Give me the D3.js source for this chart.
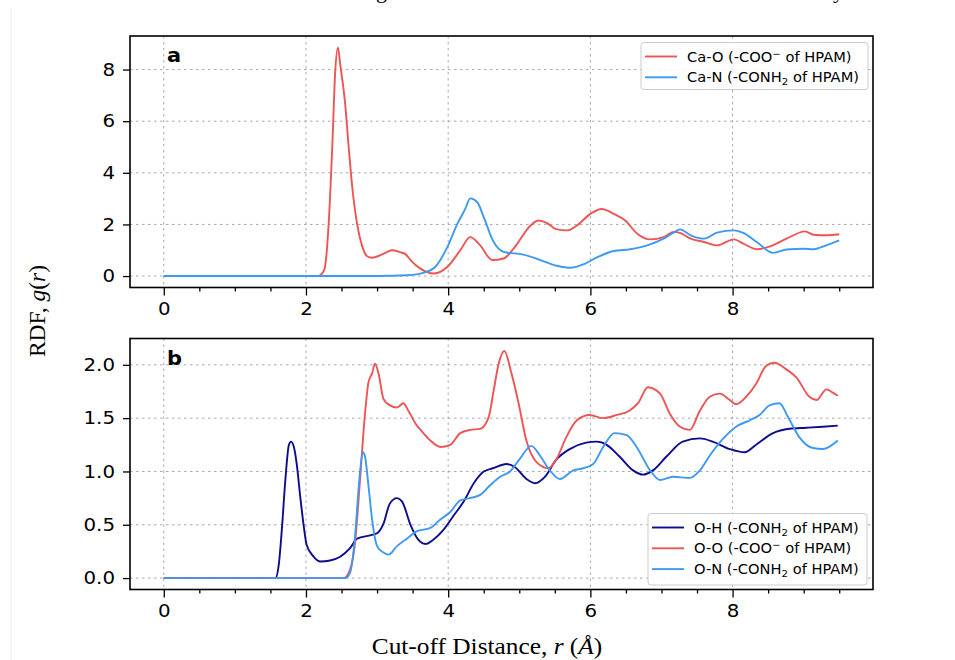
<!DOCTYPE html>
<html>
<head>
<meta charset="utf-8">
<script src="https://cdn.jsdelivr.net/npm/d3@7"></script>
<style>
  body { margin: 0; background: #fff; }
  svg { display: block; }
  .tick text { font-family: "DejaVu Sans", sans-serif; font-size: 18px; fill: #000; }
  .legend text { font-family: "DejaVu Sans", sans-serif; font-size: 13.7px; fill: #000; }
</style>
</head>
<body>
<svg id="chart"></svg>
<script>
// RDF data: [r, g(r)]
const caO = [[0,0],[2.18,0],[2.2,0.03],[2.26,0.26],[2.32,2.06],[2.37,5.02],[2.41,7.85],[2.45,8.86],[2.48,8.24],[2.55,6.7],[2.6,5.02],[2.65,3.47],[2.72,2.0],[2.79,1.16],[2.86,0.77],[2.93,0.71],[3.04,0.8],[3.14,0.93],[3.21,1.0],[3.32,0.93],[3.4,0.85],[3.47,0.62],[3.61,0.29],[3.8,0.1],[3.99,0.36],[4.17,1.0],[4.31,1.51],[4.45,1.19],[4.62,0.62],[4.78,0.68],[4.92,1.06],[5.16,1.96],[5.27,2.15],[5.39,2.05],[5.51,1.83],[5.67,1.77],[5.81,1.96],[6.0,2.41],[6.16,2.6],[6.33,2.41],[6.49,2.15],[6.66,1.64],[6.84,1.42],[7.03,1.51],[7.17,1.71],[7.26,1.67],[7.41,1.45],[7.6,1.32],[7.78,1.19],[8.02,1.42],[8.15,1.26],[8.34,1.04],[8.53,1.15],[8.76,1.45],[9.02,1.73],[9.14,1.6],[9.32,1.58],[9.5,1.62]];
const caN = [[0,0],[3.0,0],[3.42,0.03],[3.66,0.13],[3.82,0.36],[3.99,1.13],[4.13,2.03],[4.24,2.6],[4.31,3.01],[4.41,2.86],[4.5,2.28],[4.64,1.32],[4.78,0.94],[5.06,0.83],[5.3,0.62],[5.53,0.4],[5.72,0.32],[5.91,0.46],[6.09,0.72],[6.33,0.97],[6.56,1.04],[6.8,1.19],[7.03,1.45],[7.17,1.68],[7.26,1.81],[7.41,1.58],[7.6,1.45],[7.78,1.68],[8.02,1.77],[8.15,1.67],[8.34,1.32],[8.57,0.9],[8.76,1.03],[9.0,1.06],[9.14,1.04],[9.32,1.19],[9.5,1.38]];
const oH = [[0,0],[1.57,0],[1.62,0.14],[1.66,0.45],[1.71,0.92],[1.76,1.25],[1.79,1.28],[1.83,1.23],[1.87,1.07],[1.92,0.76],[1.97,0.48],[2.01,0.31],[2.11,0.2],[2.2,0.156],[2.34,0.165],[2.48,0.2],[2.62,0.28],[2.72,0.37],[2.9,0.4],[3.0,0.42],[3.09,0.51],[3.18,0.7],[3.28,0.75],[3.35,0.72],[3.47,0.5],[3.58,0.36],[3.68,0.32],[3.79,0.36],[3.93,0.45],[4.07,0.58],[4.22,0.72],[4.36,0.89],[4.5,1.0],[4.63,1.03],[4.82,1.07],[4.94,1.04],[5.1,0.93],[5.22,0.89],[5.36,0.95],[5.52,1.11],[5.71,1.21],[5.94,1.27],[6.09,1.28],[6.23,1.25],[6.41,1.14],[6.6,1.01],[6.74,0.97],[6.88,1.01],[7.07,1.14],[7.3,1.28],[7.54,1.31],[7.72,1.28],[7.96,1.21],[8.17,1.18],[8.33,1.25],[8.57,1.36],[8.8,1.4],[9.04,1.41],[9.27,1.42],[9.48,1.43]];
const oO = [[0,0],[2.53,0],[2.62,0.08],[2.69,0.33],[2.76,0.92],[2.83,1.54],[2.88,1.84],[2.93,1.92],[2.97,2.01],[3.02,1.92],[3.09,1.68],[3.18,1.62],[3.28,1.6],[3.37,1.64],[3.44,1.57],[3.54,1.45],[3.65,1.36],[3.75,1.29],[3.89,1.23],[4.03,1.25],[4.17,1.36],[4.31,1.39],[4.45,1.4],[4.57,1.51],[4.64,1.76],[4.71,2.01],[4.79,2.13],[4.89,1.92],[4.99,1.64],[5.1,1.29],[5.24,1.09],[5.41,1.03],[5.52,1.11],[5.66,1.32],[5.81,1.48],[5.99,1.53],[6.18,1.5],[6.37,1.53],[6.55,1.57],[6.67,1.64],[6.81,1.79],[6.98,1.73],[7.12,1.54],[7.26,1.42],[7.4,1.39],[7.54,1.57],[7.68,1.7],[7.82,1.73],[7.96,1.67],[8.05,1.63],[8.19,1.7],[8.33,1.82],[8.47,1.99],[8.59,2.02],[8.75,1.96],[8.9,1.88],[9.08,1.7],[9.18,1.67],[9.32,1.77],[9.41,1.74],[9.48,1.71]];
const oN = [[0,0],[2.55,0],[2.62,0.05],[2.69,0.39],[2.75,0.92],[2.8,1.18],[2.83,1.14],[2.88,0.86],[2.93,0.55],[3.0,0.3],[3.09,0.24],[3.16,0.22],[3.28,0.3],[3.42,0.37],[3.56,0.44],[3.75,0.47],[3.89,0.55],[4.03,0.62],[4.17,0.73],[4.31,0.75],[4.45,0.78],[4.59,0.87],[4.73,0.95],[4.87,1.0],[5.01,1.12],[5.17,1.24],[5.29,1.15],[5.43,1.01],[5.57,0.93],[5.76,1.01],[5.9,1.03],[6.04,1.07],[6.18,1.23],[6.34,1.36],[6.51,1.34],[6.65,1.23],[6.84,1.01],[6.98,0.92],[7.16,0.95],[7.4,0.94],[7.54,1.01],[7.68,1.15],[7.87,1.31],[8.05,1.42],[8.24,1.48],[8.38,1.53],[8.52,1.62],[8.66,1.64],[8.78,1.51],[8.94,1.32],[9.13,1.22],[9.27,1.21],[9.48,1.29]];

const xTicks = [0, 2, 4, 6, 8];
const xMinorTicks = d3.range(0, 9.51, 0.5);
const yTicksA = [0, 2, 4, 6, 8];
const yTicksB = [0, 0.5, 1.0, 1.5, 2.0];

const RED = '#ef5454', BLUE = '#3d99f2', NAVY = '#0c0c8e';
const SX = 1.1;  // the source figure is a little stretched sideways

const W = 955, H = 660;
const svg = d3.select('#chart').attr('width', W).attr('height', H);

// faint page edge and the clipped caption line above the figure
svg.append('line').attr('x1', 11).attr('x2', 11).attr('y1', 8).attr('y2', H)
  .attr('stroke', '#ececec').attr('stroke-width', 1);
svg.append('text').attr('x', 376).attr('y', -2).text('g')
  .style('font-family', '"Liberation Serif", serif').style('font-size', '22px');
svg.append('text').attr('x', 833).attr('y', -2).text('y')
  .style('font-family', '"Liberation Serif", serif').style('font-size', '22px');

const left = 130, right = 873;
const x = d3.scaleLinear().domain([-0.475, 9.975]).range([left, right]);

const panels = [
  { label: 'a', top: 36, bottom: 287.5, domain: [-0.443, 9.3], ticks: yTicksA, fmt: d3.format('d'),
    series: [ { data: caO, color: RED, name: ['Ca-O (-COO', '−', ' of HPAM)'], sup: true },
              { data: caN, color: BLUE, name: ['Ca-N (-CONH', '2', ' of HPAM)'], sup: false } ],
    legend: { x: 641, y: 42.5, w: 227, h: 47 } },
  { label: 'b', top: 338.5, bottom: 589.5, domain: [-0.107, 2.247], ticks: yTicksB, fmt: d3.format('.1f'),
    series: [ { data: oH, color: NAVY, name: ['O-H (-CONH', '2', ' of HPAM)'], sup: false },
              { data: oO, color: RED, name: ['O-O (-COO', '−', ' of HPAM)'], sup: true },
              { data: oN, color: BLUE, name: ['O-N (-CONH', '2', ' of HPAM)'], sup: false } ],
    legend: { x: 648, y: 513.5, w: 219, h: 71.5 } }
];

panels.forEach(p => {
  const y = d3.scaleLinear().domain(p.domain).range([p.bottom, p.top]);
  const g = svg.append('g');

  // grid
  g.append('g').selectAll('line').data(xTicks).enter().append('line')
    .attr('x1', d => x(d)).attr('x2', d => x(d)).attr('y1', p.top).attr('y2', p.bottom)
    .attr('stroke', '#aaaaaa').attr('stroke-width', 1).attr('stroke-dasharray', '2.5,3.5');
  g.append('g').selectAll('line').data(p.ticks).enter().append('line')
    .attr('x1', left).attr('x2', right).attr('y1', d => y(d)).attr('y2', d => y(d))
    .attr('stroke', '#aaaaaa').attr('stroke-width', 1).attr('stroke-dasharray', '2.5,3.5');

  // lines
  const line = d3.line().x(d => x(d[0])).y(d => y(d[1])).curve(d3.curveMonotoneX);
  p.series.forEach(s => {
    g.append('path').datum(s.data).attr('d', line)
      .attr('fill', 'none').attr('stroke', s.color).attr('stroke-width', 1.9)
      .attr('stroke-linejoin', 'round');
  });

  // axes
  const xAxis = g.append('g').attr('transform', `translate(0,${p.bottom})`)
    .call(d3.axisBottom(x).tickValues(xTicks).tickSize(8).tickPadding(7).tickFormat(d3.format('d')));
  const xMinor = g.append('g').attr('transform', `translate(0,${p.bottom})`)
    .call(d3.axisBottom(x).tickValues(xMinorTicks.filter(v => v % 2 !== 0)).tickSize(4).tickFormat(''));
  const yAxis = g.append('g').attr('transform', `translate(${left},0)`)
    .call(d3.axisLeft(y).tickValues(p.ticks).tickSize(7).tickPadding(8).tickFormat(p.fmt));
  [xAxis, xMinor, yAxis].forEach(a => {
    a.select('.domain').remove();
    a.selectAll('.tick line').attr('stroke', '#000').attr('stroke-width', 1.3);
  });
  xAxis.selectAll('.tick text').attr('transform', `scale(${SX},1)`);
  yAxis.selectAll('.tick text').attr('x', -15 / SX).attr('transform', `scale(${SX},1)`);

  // frame
  g.append('rect').attr('x', left).attr('y', p.top).attr('width', right - left).attr('height', p.bottom - p.top)
    .attr('fill', 'none').attr('stroke', '#000').attr('stroke-width', 1.6);

  // panel label
  g.append('text').attr('transform', `translate(167,${p.top + 26}) scale(${SX},1)`).text(p.label)
    .style('font-family', '"DejaVu Sans", sans-serif').style('font-weight', 'bold').style('font-size', '19px');

  // legend
  const L = p.legend;
  const lg = g.append('g').attr('class', 'legend');
  lg.append('rect').attr('x', L.x).attr('y', L.y).attr('width', L.w).attr('height', L.h)
    .attr('rx', 3).attr('fill', '#fff').attr('fill-opacity', 0.85).attr('stroke', '#cccccc').attr('stroke-width', 1);
  p.series.forEach((s, i) => {
    const cy = L.y + 14 + i * 20.8;
    lg.append('line').attr('x1', L.x + 4).attr('x2', L.x + 36).attr('y1', cy).attr('y2', cy)
      .attr('stroke', s.color).attr('stroke-width', 1.9);
    const t = lg.append('text').attr('transform', `translate(${L.x + 46},${cy + 5}) scale(1.07,1)`);
    t.append('tspan').text(s.name[0]);
    t.append('tspan').text(s.name[1]).style('font-size', '9.5px')
      .attr('dy', s.sup ? -5 : 3);
    t.append('tspan').text(s.name[2]).attr('dy', s.sup ? 5 : -3);
  });
});

// shared axis labels
svg.append('text').attr('transform', 'translate(487,654) scale(1.08,1)').attr('text-anchor', 'middle')
  .style('font-family', '"Liberation Serif", serif').style('font-size', '23.5px')
  .html('Cut-off Distance, <tspan font-style="italic">r</tspan> (<tspan font-style="italic">Å</tspan>)');
svg.append('text').attr('transform', 'translate(45,311) rotate(-90)').attr('text-anchor', 'middle')
  .style('font-family', '"Liberation Serif", serif').style('font-size', '23.5px')
  .html('RDF, <tspan font-style="italic">g</tspan>(<tspan font-style="italic">r</tspan>)');
</script>
</body>
</html>
